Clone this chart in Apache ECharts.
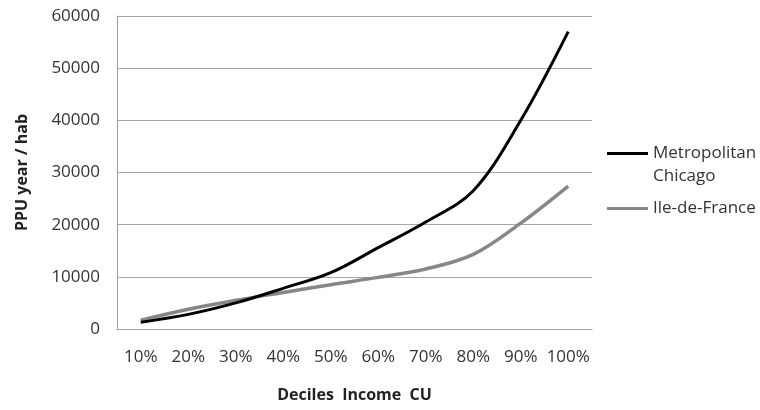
<!DOCTYPE html>
<html><head><meta charset="utf-8">
<script src="https://cdn.jsdelivr.net/npm/echarts@6/dist/echarts.min.js"></script>
<style>html,body{margin:0;padding:0;background:#fff}#c{width:760px;height:410px}</style>
</head><body><div id="c"></div>
<script>
const categories = ['10%','20%','30%','40%','50%','60%','70%','80%','90%','100%'];
const chicago = [1300, 2800, 5000, 7800, 10800, 15600, 20500, 26500, 40000, 57000];
const idf = [1700, 3800, 5500, 7000, 8500, 9900, 11500, 14300, 20300, 27400];
const yTicks = {min: 0, max: 60000, interval: 10000};
const seriesNames = ['Metropolitan Chicago', 'Ile-de-France'];
const F = '"Open Sans", sans-serif';
const chart = echarts.init(document.getElementById('c'), null, {renderer: 'canvas'});
chart.setOption({
  animation: false,
  backgroundColor: '#fff',
  grid: {left: 117, right: 168, top: 16, bottom: 81},
  legend: {
    orient: 'vertical', left: 607, top: 119, itemGap: 9, padding: 0,
    itemWidth: 41, itemHeight: 3,
    formatter: n => n === 'Metropolitan Chicago' ? ' \nMetropolitan\nChicago' : n,
    textStyle: {fontFamily: F, fontSize: 17, color: '#333', lineHeight: 23},
    data: [
      {name: seriesNames[0], icon: 'rect', itemStyle: {color: '#000'}},
      {name: seriesNames[1], icon: 'rect', itemStyle: {color: '#878787'}}
    ]
  },
  xAxis: {
    type: 'category', data: categories, boundaryGap: true,
    name: 'Deciles  Income  CU', nameLocation: 'middle', nameGap: 58,
    nameTextStyle: {fontFamily: F, fontSize: 16, fontWeight: 'bold', color: '#222'},
    axisLine: {show: true, lineStyle: {color: '#a0a0a0', width: 1}},
    axisTick: {show: false},
    axisLabel: {fontFamily: F, fontSize: 17, color: '#333', margin: 20, interval: 0}
  },
  yAxis: {
    type: 'value', min: yTicks.min, max: yTicks.max, interval: yTicks.interval,
    name: 'PPU year / hab', nameLocation: 'middle', nameGap: 87, nameRotate: 90,
    nameTextStyle: {fontFamily: F, fontSize: 16, fontWeight: 'bold', color: '#222'},
    axisLine: {show: true, lineStyle: {color: '#a0a0a0', width: 1}},
    axisTick: {show: false},
    axisLabel: {fontFamily: F, fontSize: 17, color: '#333', margin: 17, formatter: v => String(v)},
    splitLine: {show: true, lineStyle: {color: '#a6a6a6', width: 1}}
  },
  series: [
    {name: seriesNames[0], type: 'line', data: chicago, smooth: 0.35, showSymbol: false,
     lineStyle: {color: '#000', width: 3}, itemStyle: {color: '#000'}, z: 3},
    {name: seriesNames[1], type: 'line', data: idf, smooth: 0.35, showSymbol: false,
     lineStyle: {color: '#878787', width: 3.5}, itemStyle: {color: '#878787'}, z: 2}
  ]
});
</script></body></html>
